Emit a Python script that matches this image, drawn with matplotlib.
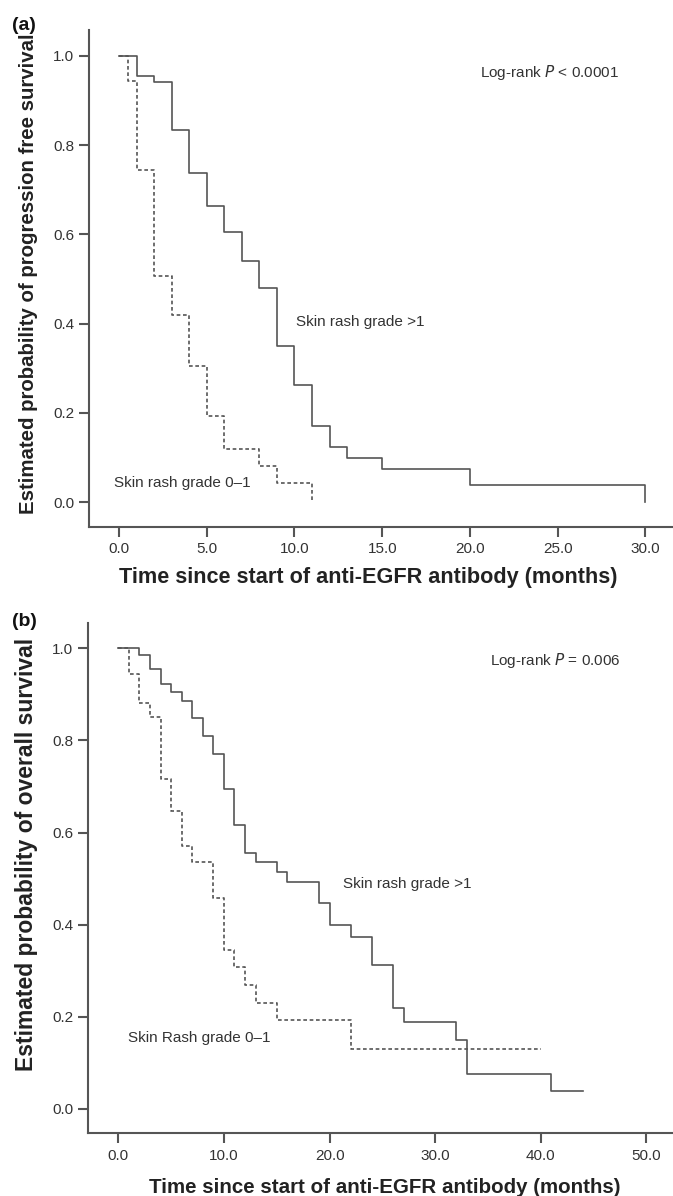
import numpy as np
import matplotlib
matplotlib.use('Agg')
import matplotlib.pyplot as plt

# =========================
# DATA
# =========================
# (a) progression free survival
pfs_hi_time = [0, 1, 2, 3, 4, 5, 6, 7, 8, 9, 10, 11, 12, 13, 15, 20, 30]
pfs_hi_surv = [1.0, 0.955, 0.942, 0.835, 0.738, 0.663, 0.605, 0.541, 0.48, 0.35,
               0.263, 0.171, 0.123, 0.099, 0.075, 0.039, 0.0]
pfs_lo_time = [0, 0.5, 1, 2, 3, 4, 5, 6, 8, 9, 11]
pfs_lo_surv = [1.0, 0.944, 0.744, 0.507, 0.419, 0.306, 0.194, 0.119, 0.081, 0.042, 0.0]

# (b) overall survival
os_hi_time = [0, 2, 3, 4, 5, 6, 7, 8, 9, 10, 11, 12, 13, 15, 16, 19, 20, 22, 24,
              26, 27, 32, 33, 41, 44]
os_hi_surv = [1.0, 0.986, 0.956, 0.922, 0.905, 0.886, 0.848, 0.81, 0.771, 0.695,
              0.616, 0.556, 0.535, 0.514, 0.493, 0.446, 0.4, 0.374, 0.313, 0.219,
              0.188, 0.15, 0.076, 0.038, 0.038]
os_lo_time = [0, 1, 2, 3, 4, 5, 6, 7, 9, 10, 11, 12, 13, 15, 22, 40]
os_lo_surv = [1.0, 0.943, 0.882, 0.851, 0.716, 0.647, 0.571, 0.535, 0.457, 0.345,
              0.307, 0.268, 0.229, 0.192, 0.13, 0.13]

y_ticks = [0.0, 0.2, 0.4, 0.6, 0.8, 1.0]
x_ticks_a = [0, 5, 10, 15, 20, 25, 30]
x_ticks_b = [0, 10, 20, 30, 40, 50]

# =========================
# STYLE
# =========================
LINE_COLOR = '#555555'
AXIS_COLOR = '#555555'
TEXT_COLOR = '#333333'
LABEL_COLOR = '#222222'
NOTE_SIZE = 11

plt.rcParams['font.family'] = 'Liberation Sans'

fig = plt.figure(figsize=(6.73, 11.96), dpi=100)
fig.patch.set_facecolor('white')

ax_a = fig.add_axes([0.1327, 0.5596, 0.8673, 0.4153])
ax_b = fig.add_axes([0.1312, 0.0524, 0.8688, 0.4264])


def style_axes(ax, xticks, xlim):
    for side in ['top', 'right']:
        ax.spines[side].set_visible(False)
    for side in ['left', 'bottom']:
        ax.spines[side].set_color(AXIS_COLOR)
        ax.spines[side].set_linewidth(1.5)
    ax.set_xlim(*xlim)
    ax.set_xticks(xticks)
    ax.set_xticklabels([f'{t:.1f}' for t in xticks])
    ax.set_yticks(y_ticks)
    ax.set_yticklabels([f'{t:.1f}' for t in y_ticks])
    ax.tick_params(axis='both', direction='out', length=7, width=1.5,
                   colors=AXIS_COLOR, labelcolor=TEXT_COLOR, labelsize=11, pad=4)


# ---- panel (a)
ax_a.step(pfs_hi_time, pfs_hi_surv, where='post', color=LINE_COLOR, lw=1.2)
ax_a.step(pfs_lo_time, pfs_lo_surv, where='post', color=LINE_COLOR, lw=1.2,
          linestyle=(0, (2.2, 1.6)))
ax_a.set_ylim(-0.055, 1.058)
style_axes(ax_a, x_ticks_a, (-1.69, 31.57))
ax_a.set_xlabel('Time since start of anti-EGFR antibody (months)',
                fontsize=15.6, fontweight='bold', color=LABEL_COLOR)
ax_a.set_ylabel('Estimated probability of progression free survival',
                fontsize=14.7, fontweight='bold', color=LABEL_COLOR)
ax_a.xaxis.set_label_coords(0.4775, -0.0805)
ax_a.yaxis.set_label_coords(-0.0879, 0.509)
ax_a.text(20.57, 0.963, 'Log-rank $\\it{P}$ < 0.0001', fontsize=NOTE_SIZE,
          color=TEXT_COLOR, va='center')
ax_a.text(10.09, 0.403, 'Skin rash grade >1', fontsize=NOTE_SIZE, color=TEXT_COLOR,
          va='center')
ax_a.text(-0.27, 0.042, 'Skin rash grade 0\u20131', fontsize=NOTE_SIZE,
          color=TEXT_COLOR, va='center')

# ---- panel (b)
ax_b.step(os_hi_time, os_hi_surv, where='post', color=LINE_COLOR, lw=1.2)
ax_b.step(os_lo_time, os_lo_surv, where='post', color=LINE_COLOR, lw=1.2,
          linestyle=(0, (2.2, 1.6)))
ax_b.set_ylim(-0.053, 1.054)
style_axes(ax_b, x_ticks_b, (-2.84, 52.51))
ax_b.set_xlabel('Time since start of anti-EGFR antibody (months)',
                fontsize=14.8, fontweight='bold', color=LABEL_COLOR)
ax_b.set_ylabel('Estimated probability of overall survival',
                fontsize=16.5, fontweight='bold', color=LABEL_COLOR)
ax_b.xaxis.set_label_coords(0.5074, -0.0876)
ax_b.yaxis.set_label_coords(-0.0855, 0.5476)
ax_b.text(35.2, 0.973, 'Log-rank $\\it{P}$ = 0.006', fontsize=NOTE_SIZE,
          color=TEXT_COLOR, va='center')
ax_b.text(21.3, 0.488, 'Skin rash grade >1', fontsize=NOTE_SIZE, color=TEXT_COLOR,
          va='center')
ax_b.text(0.89, 0.153, 'Skin Rash grade 0\u20131', fontsize=NOTE_SIZE,
          color=TEXT_COLOR, va='center')

fig.text(0.018, 0.979, '(a)', fontsize=14, fontweight='bold', color='#111111',
         va='center', ha='left')
fig.text(0.018, 0.48, '(b)', fontsize=14, fontweight='bold', color='#111111',
         va='center', ha='left')

plt.savefig('out.png', dpi=100, facecolor='white')
